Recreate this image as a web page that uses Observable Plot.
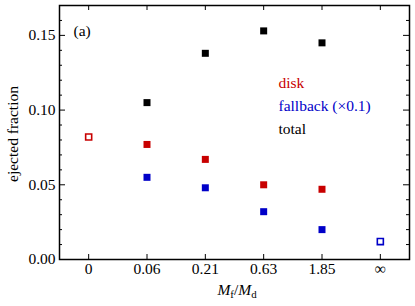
<!DOCTYPE html>
<html>
<head>
<meta charset="utf-8">
<script src="https://cdn.jsdelivr.net/npm/d3@7"></script>
<script src="https://cdn.jsdelivr.net/npm/@observablehq/plot@0.6"></script>
<style>
  html, body { margin: 0; padding: 0; background: #fff; }
  svg, svg text { font-family: "Liberation Serif", "DejaVu Serif", serif !important; }
</style>
</head>
<body>
<div id="chart"></div>
<script>
// ---- data ----
const categories = ["0", "0.06", "0.21", "0.63", "1.85", "\u221E"];
const diskValues     = [0.082, 0.077, 0.067, 0.050, 0.047, null];
const fallbackValues = [null, 0.055, 0.048, 0.032, 0.020, 0.012];
const totalValues    = [null, 0.105, 0.138, 0.153, 0.145, null];
const diskOpen     = [true, false, false, false, false, false];
const fallbackOpen = [false, false, false, false, false, true];
const totalOpen    = [false, false, false, false, false, false];
const seriesNames  = ["disk", "fallback (\u00D70.1)", "total"];
const seriesColors = ["#c80000", "#0000c8", "#000000"];
const yMajorTicks  = [0, 0.05, 0.10, 0.15];
const yMinorTicks  = [0.01,0.02,0.03,0.04,0.06,0.07,0.08,0.09,0.11,0.12,0.13,0.14,0.16];
const panelLabel   = "(a)";
const yTitle       = "ejected fraction";

// ---- build rows ----
const rows = [];
[[diskValues, diskOpen], [fallbackValues, fallbackOpen], [totalValues, totalOpen]].forEach(([vals, open], s) => {
  vals.forEach((v, i) => {
    if (v != null) rows.push({i, v, series: seriesNames[s], open: open[i]});
  });
});
const filled = rows.filter(d => !d.open);
const hollow = rows.filter(d => d.open);
const catIdx = categories.map((_, i) => i);

const W = 415, H = 306, mL = 59, mR = 6, mT = 5, mB = 47;
const pw = W - mL - mR, ph = H - mT - mB;
const fs = 15.5;
const ff = '"Liberation Serif", "DejaVu Serif", serif';
const legendDy = [82, 105, 128];

const chart = Plot.plot({
  width: W, height: H,
  marginLeft: mL, marginRight: mR, marginTop: mT, marginBottom: mB,
  style: {fontFamily: ff, fontSize: fs + "px", background: "white", color: "black"},
  x: {domain: [-0.5, categories.length - 0.5]},
  y: {domain: [0, 0.17]},
  color: {domain: seriesNames, range: seriesColors},
  marks: [
    Plot.axisX(catIdx, {tickSize: 0, tickPadding: 3, tickFormat: i => categories[i], label: null, fontSize: fs, fontFamily: ff}),
    Plot.axisY(yMajorTicks, {tickSize: 0, tickPadding: 4, tickFormat: d3.format(".2f"), label: null, fontSize: fs, fontFamily: ff}),
    // inward ticks
    Plot.tickY(yMajorTicks, {y: d => d, insetRight: pw - 6, stroke: "black", strokeWidth: 1}),
    Plot.tickY(yMajorTicks, {y: d => d, insetLeft: pw - 6, stroke: "black", strokeWidth: 1}),
    Plot.tickY(yMinorTicks, {y: d => d, insetRight: pw - 3, stroke: "black", strokeWidth: 1}),
    Plot.tickY(yMinorTicks, {y: d => d, insetLeft: pw - 3, stroke: "black", strokeWidth: 1}),
    Plot.tickX(catIdx, {x: d => d, insetTop: ph - 5, stroke: "black", strokeWidth: 1}),
    Plot.tickX(catIdx, {x: d => d, insetBottom: ph - 5, stroke: "black", strokeWidth: 1}),
    Plot.frame({stroke: "black", strokeWidth: 1.5}),
    Plot.dot(filled, {x: "i", y: "v", symbol: "square", r: 3.95, fill: "series", stroke: null}),
    Plot.dot(hollow, {x: "i", y: "v", symbol: "square", r: 3.4, fill: "white", stroke: "series", strokeWidth: 1.6}),
    // legend text, one line each
    ...seriesNames.map((name, k) =>
      Plot.text([name], {frameAnchor: "top-left", dx: 219, dy: legendDy[k], text: d => d, fill: seriesColors[k], textAnchor: "start", lineAnchor: "bottom", fontSize: fs, fontFamily: ff})
    ),
    Plot.text([panelLabel], {frameAnchor: "top-left", dx: 14, dy: 30, text: d => d, textAnchor: "start", lineAnchor: "bottom", fill: "black", fontSize: fs, fontFamily: ff})
  ]
});
document.getElementById("chart").appendChild(chart);

const svg = d3.select(chart);

// y-axis title (rotated)
svg.append("text")
  .attr("transform", `translate(18,${mT + ph / 2 + 2}) rotate(-90)`)
  .attr("text-anchor", "middle")
  .attr("font-size", fs)
  .attr("font-family", ff)
  .attr("fill", "black")
  .text(yTitle);

// x-axis title: M_f / M_d
const xt = svg.append("text")
  .attr("x", mL + pw / 2 + 3)
  .attr("y", 295)
  .attr("text-anchor", "middle")
  .attr("font-size", fs)
  .attr("font-family", ff)
  .attr("fill", "black");
xt.append("tspan").attr("font-style", "italic").text("M");
xt.append("tspan").attr("font-size", fs * 0.7).attr("dy", 3).text("f");
xt.append("tspan").attr("dy", -3).text("/");
xt.append("tspan").attr("font-style", "italic").text("M");
xt.append("tspan").attr("font-size", fs * 0.7).attr("dy", 3).text("d");
</script>
</body>
</html>
